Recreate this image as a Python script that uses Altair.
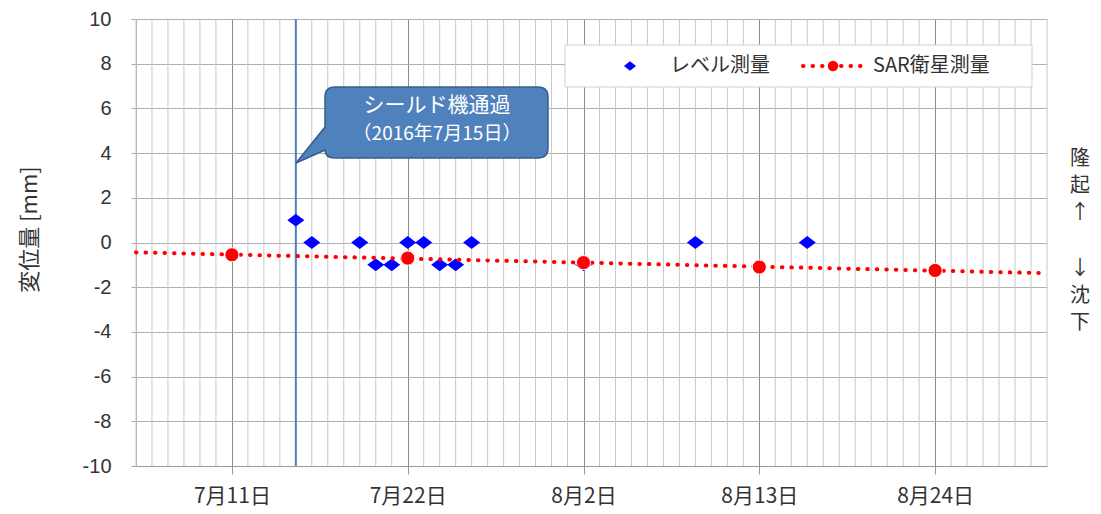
import altair as alt
import pandas as pd

# ---------------- data ----------------
level_dates = ["2016-07-15", "2016-07-16", "2016-07-19", "2016-07-20", "2016-07-21",
               "2016-07-22", "2016-07-23", "2016-07-24", "2016-07-25", "2016-07-26",
               "2016-08-02", "2016-08-09", "2016-08-16"]
level_values = [1, 0, 0, -1, -1, 0, 0, -1, -1, 0, -1, 0, 0]

sar_dates = ["2016-07-11", "2016-07-22", "2016-08-02", "2016-08-13", "2016-08-24"]
sar_values = [-0.55, -0.70, -0.90, -1.10, -1.25]

event_dates = ["2016-07-15"]
x_tick_dates = ["2016-07-11", "2016-07-22", "2016-08-02", "2016-08-13", "2016-08-24"]
x_range = ["2016-07-05", "2016-08-31"]
y_ticks = [-10, -8, -6, -4, -2, 0, 2, 4, 6, 8, 10]

series_names = ["レベル測量", "SAR衛星測量"]
callout_lines = ["シールド機通過", "（2016年7月15日）"]
side_up = ["隆", "起", "↑"]
side_down = ["↓", "沈", "下"]
y_title = "変位量 [mm]"

FONT = "Noto Sans CJK JP"
NUMFONT = "Liberation Sans"
TXT = "#333333"
BLUE = "#0000FF"
RED = "#FF0000"
CALLOUT = "#4F81BD"


def ms(s):
    return int(pd.Timestamp(s, tz="UTC").value // 10**6)


major_ms = [ms(d) for d in x_tick_dates]
all_days = [ms(d) for d in pd.date_range(x_range[0], x_range[1], freq="D").strftime("%Y-%m-%d")]
minor_ms = [d for d in all_days if d not in major_ms]

df_level = pd.DataFrame({"t": [ms(d) for d in level_dates], "value": level_values})
df_sar = pd.DataFrame({"t": [ms(d) for d in sar_dates], "value": sar_values})
df_event = pd.DataFrame({"t": [ms(d) for d in event_dates]})
df_grid = pd.DataFrame({"t": minor_ms})
one = alt.Data(values=[{}])

xscale = alt.Scale(type="utc", domain=[ms(x_range[0]), ms(x_range[1])])
yscale = alt.Scale(domain=[-10, 10], nice=False, zero=False)

xaxis = alt.Axis(
    values=major_ms,
    labelExpr="(utcmonth(datum.value) + 1) + '月' + utcdate(datum.value) + '日'",
    labelFont=FONT, labelFontSize=21, labelColor=TXT, labelPadding=11,
    labelFlush=False, labelOverlap=False,
    tickSize=8, tickColor="#999999", domainColor="#999999",
    grid=True, gridColor="#8c8c8c", title=None)
yaxis = alt.Axis(
    values=y_ticks, labelExpr="'' + datum.value",
    labelFont=NUMFONT, labelFontSize=20, labelColor=TXT,
    labelPadding=20, tickSize=5, tickColor="#a6a6a6", domainColor="#a6a6a6",
    grid=True, gridColor="#b0b0b0",
    title=y_title, titleFont=FONT, titleFontSize=22, titleFontWeight="normal",
    titleColor=TXT, titleAngle=-90, titleX=-107, titleY=210,
    titleAlign="center", titleBaseline="middle")

X = alt.X("t:T", scale=xscale, axis=xaxis)
Y = alt.Y("value:Q", scale=yscale, axis=yaxis)

DIAMOND = "M-1,0L0,-0.76L1,0L0,0.76Z"

# minor daily grid
grid = alt.Chart(df_grid).mark_rule(color="#c8c8c8", strokeWidth=1).encode(x=X)

# event line
event = alt.Chart(df_event).mark_rule(color=CALLOUT, strokeWidth=2).encode(x=X)

# level points
level = alt.Chart(df_level).mark_point(
    shape=DIAMOND, filled=True, size=289, color=BLUE, opacity=1
).encode(x=X, y=Y)

# SAR trend line (linear regression extended over the full axis)
trend = alt.Chart(df_sar).transform_regression(
    "t", "value", method="linear", extent=[ms(x_range[0]), ms(x_range[1])]
).mark_line(color=RED, strokeWidth=4, strokeDash=[0.5, 9], strokeCap="round").encode(x=X, y=Y)

sar = alt.Chart(df_sar).mark_point(
    shape="circle", filled=True, size=200, color=RED, stroke="white", strokeWidth=1, opacity=1
).encode(x=X, y=Y)

# callout bubble (rounded box + tail), pixel units relative to its centre
CALLOUT_PATH = ("M-101,-36L102,-36Q112,-36 112,-26L112,25Q112,35 102,35"
                "L-101,35Q-111,35 -111,27L-140,40L-111,4L-111,-26Q-111,-36 -101,-36Z")
bubble = alt.Chart(one).mark_point(
    shape=CALLOUT_PATH, size=4, filled=True, fill=CALLOUT, stroke="#385D8A",
    strokeWidth=1.5, opacity=1
).encode(x=alt.value(300), y=alt.value(104))

callout_t1 = alt.Chart(one).mark_text(
    text=callout_lines[0], font=FONT, fontSize=21, color="white", align="center", baseline="middle"
).encode(x=alt.value(301), y=alt.value(87))
callout_t2 = alt.Chart(one).mark_text(
    text=callout_lines[1], font=FONT, fontSize=19, color="white", align="center", baseline="middle"
).encode(x=alt.value(301), y=alt.value(115))

# legend
leg_box = alt.Chart(one).mark_rect(fill="white", stroke="#d0d0d0", strokeWidth=1).encode(
    x=alt.value(429), x2=alt.value(896), y=alt.value(26), y2=alt.value(68)
)
leg_dia = alt.Chart(one).mark_point(
    shape=DIAMOND, filled=True, size=150, color=BLUE, opacity=1
).encode(x=alt.value(494), y=alt.value(47))
leg_t1 = alt.Chart(one).mark_text(
    text=series_names[0], font=FONT, fontSize=20, color=TXT, align="left", baseline="middle"
).encode(x=alt.value(534), y=alt.value(47))
leg_line = alt.Chart(one).mark_rule(
    color=RED, strokeWidth=4, strokeDash=[0.5, 9], strokeCap="round"
).encode(x=alt.value(667), x2=alt.value(727), y=alt.value(47))
leg_dot = alt.Chart(one).mark_point(
    shape="circle", filled=True, size=110, color=RED, opacity=1
).encode(x=alt.value(697), y=alt.value(47))
leg_t2 = alt.Chart(one).mark_text(
    text=series_names[1], font=FONT, fontSize=20, color=TXT, align="left", baseline="middle"
).encode(x=alt.value(737), y=alt.value(47))

# right side labels
side1 = alt.Chart(one).mark_text(
    text=side_up, font=FONT, fontSize=20, lineHeight=27, color=TXT, align="center", baseline="top"
).encode(x=alt.value(944), y=alt.value(130))
side2 = alt.Chart(one).mark_text(
    text=side_down, font=FONT, fontSize=20, lineHeight=27, color=TXT, align="center", baseline="top"
).encode(x=alt.value(944), y=alt.value(240))

chart = alt.layer(
    grid, event, level, trend, sar, bubble, callout_t1, callout_t2,
    leg_box, leg_dia, leg_t1, leg_line, leg_dot, leg_t2, side1, side2
).properties(
    width=911, height=447,
    padding={"left": 128, "top": 11, "right": 46, "bottom": 46},
    autosize=alt.AutoSizeParams(type="none"),
    background="white",
).configure_view(stroke=None)

chart.save("out.html", embed_options={"renderer": "svg", "actions": False})
